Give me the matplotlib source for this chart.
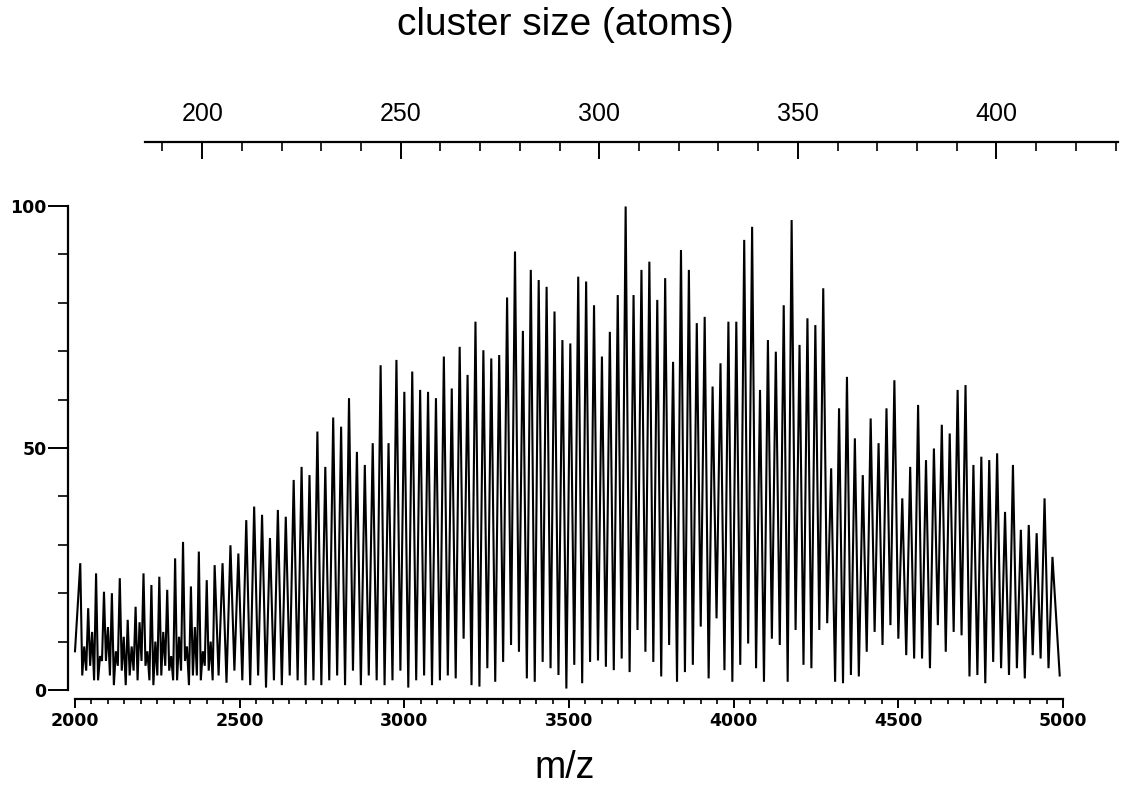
import matplotlib
matplotlib.use("Agg")
import matplotlib.pyplot as plt
from matplotlib.ticker import MultipleLocator, FixedLocator

# ---------------- data ----------------
# main peaks: carbon clusters C_n, even n from 168 to 414, at m/z = 12 n
peak_n_first = 168
peak_heights = [
    26.2, 16.9, 24.1, 20.3, 20.0, 23.1, 14.5, 17.2, 24.1, 21.7, 23.4, 20.7, 27.2, 30.6, 21.4, 28.6, 22.7, 25.8,
    26.2, 29.9, 28.2, 35.1, 37.9, 36.2, 31.4, 37.2, 35.8, 43.4, 46.1, 44.4, 53.4,
    46.1, 56.3, 54.4, 60.3, 49.2, 46.5, 51.0, 67.1, 51.0, 68.2, 61.6, 65.8, 62.0, 61.6, 60.3, 68.9,
    62.3, 70.9, 65.1, 76.1, 70.2, 68.5, 69.2, 81.1, 90.6, 74.2, 86.8, 84.7, 83.3, 78.2, 72.3, 71.6,
    85.4, 84.4, 79.5, 68.9, 74.0, 81.6, 99.9, 81.6, 86.8, 88.5, 80.6, 85.1, 67.8, 90.9, 86.8, 75.8,
    77.1, 62.7, 67.5, 76.1, 76.1, 93.0, 95.7, 62.0, 72.3, 69.9, 79.5, 97.1, 71.3, 76.8, 75.4, 83.0,
    45.8, 58.2, 64.7, 52.0, 44.4, 56.1, 51.0, 58.2, 64.0, 39.6, 46.1, 58.9, 47.5, 49.9, 54.8,
    53.0, 62.0, 63.0, 46.5, 48.2, 47.5, 48.9, 36.8, 46.5, 33.1, 34.1, 32.4, 39.6, 27.5,
]

# noisy low-mass region (n = 168 .. 200): odd-n noise spikes and dips in between
noise_last_n = 200
noise_odd = [9, 12, 7, 13, 8, 11, 9, 14, 8, 10, 12, 7, 11, 9, 13, 8, 10]
noise_low_a = [3, 5, 2, 6, 1, 4, 3, 2, 5, 1, 3, 4, 2, 6, 3, 2, 4]
noise_low_b = [4, 2, 6, 3, 5, 1, 4, 6, 2, 3, 5, 2, 4, 1, 3, 5, 2]

# minima between the peaks n and n+2 for n = 202 .. 412
valley_heights = [
    3, 1.5, 4, 2, 1, 3, 0.5, 2, 1, 3, 2, 1, 2, 1,
    2, 3, 1, 4, 1, 3, 2, 1, 2, 4, 0.5, 2, 3, 1, 2, 3,
    2.4, 10.6, 1.0, 0.7, 4.5, 1.7, 5.8, 9.3, 7.9, 2.4, 1.7, 5.8, 4.5, 3.1, 0.3, 5.2,
    1.4, 5.8, 6.1, 4.8, 4.1, 6.5, 3.7, 12.4, 7.9, 5.8, 2.8, 9.3, 1.7, 3.7, 5.2, 13.1,
    2.4, 14.8, 4.1, 1.7, 5.2, 9.6, 4.5, 1.7, 10.6, 9.3, 1.7, 12.4, 5.2, 4.5, 12.4, 13.8,
    1.7, 1.4, 3.1, 2.8, 7.9, 12.0, 9.3, 13.4, 10.6, 7.2, 6.5, 6.5, 4.5, 13.4, 7.9,
    12.0, 11.3, 2.8, 3.1, 1.4, 5.8, 4.5, 3.1, 4.5, 2.4, 7.2, 6.5, 4.5,
]
start_mz, start_val = 2000, 8
end_mz, end_val = 4990, 3

x_ticks = [2000, 2500, 3000, 3500, 4000, 4500, 5000]
y_ticks = [0, 50, 100]
top_ticks = [200, 250, 300, 350, 400]

# ---------------- build the trace ----------------
xs, ys = [start_mz], [start_val]
for i, h in enumerate(peak_heights):
    n = peak_n_first + 2 * i
    xs.append(12 * n); ys.append(h)
    if n <= noise_last_n:
        j = (n - peak_n_first) // 2
        xs += [12 * n + 6, 12 * n + 12, 12 * n + 18]
        ys += [noise_low_a[j], noise_odd[j], noise_low_b[j]]
    elif i < len(peak_heights) - 1:
        xs.append(12 * n + 12); ys.append(valley_heights[(n - 202) // 2])
xs.append(end_mz); ys.append(end_val)

# ---------------- figure ----------------
W, H = 1128, 789
fig = plt.figure(figsize=(W / 100, H / 100), dpi=100)

ax = fig.add_axes([75 / W, (H - 690) / H, (1063 - 75) / W, (690 - 206) / H])
ax.plot(xs, ys, color="black", lw=1.5, clip_on=False, solid_joinstyle="miter")
ax.set_xlim(2000, 5000)
ax.set_ylim(0, 100)
for s in ("top", "right"):
    ax.spines[s].set_visible(False)
ax.spines["left"].set_position(("outward", 5))
ax.spines["bottom"].set_position(("outward", 6.5))
ax.spines["left"].set_bounds(0, 100)
ax.spines["bottom"].set_bounds(2000, 5000)
for s in ("left", "bottom"):
    ax.spines[s].set_linewidth(1.6)

ax.xaxis.set_major_locator(FixedLocator(x_ticks))
ax.xaxis.set_minor_locator(MultipleLocator(50))
ax.yaxis.set_major_locator(FixedLocator(y_ticks))
ax.yaxis.set_minor_locator(MultipleLocator(10))
ax.tick_params(axis="x", which="major", direction="out", length=6.5, width=1.4, pad=3)
ax.tick_params(axis="x", which="minor", direction="out", length=3.6, width=1.2)
ax.tick_params(axis="y", which="major", direction="out", length=14.4, width=1.4, pad=1)
ax.tick_params(axis="y", which="minor", direction="out", length=7.2, width=1.2)
for lab in ax.get_xticklabels() + ax.get_yticklabels():
    lab.set_fontweight("bold")
    lab.set_fontsize(12.5)
    lab.set_family("DejaVu Sans")

# top axis: cluster size
axt = fig.add_axes([145 / W, (H - 142) / H, (1118 - 145) / W, 1e-4])
axt.set_xlim(185.6, 430.6)
axt.set_yticks([])
for s in ("top", "left", "right"):
    axt.spines[s].set_visible(False)
axt.spines["bottom"].set_linewidth(1.6)
axt.patch.set_visible(False)
axt.xaxis.set_major_locator(FixedLocator(top_ticks))
axt.xaxis.set_minor_locator(MultipleLocator(10))
axt.tick_params(axis="x", which="both", direction="out", bottom=True, top=False,
                labelbottom=False, labeltop=True)
axt.tick_params(axis="x", which="major", length=12.2, width=1.4, pad=-1.0, labelsize=18)
axt.tick_params(axis="x", which="minor", length=6.5, width=1.2)
for lab in axt.get_xticklabels():
    lab.set_family("Liberation Sans")

fig.text(565 / W, 1 - 25 / H, "cluster size (atoms)", ha="center", va="center",
         fontsize=28, family="Liberation Sans")
fig.text(565 / W, 1 - 768 / H, "m/z", ha="center", va="center",
         fontsize=27, family="Liberation Sans")

fig.savefig("out.png", dpi=100)
